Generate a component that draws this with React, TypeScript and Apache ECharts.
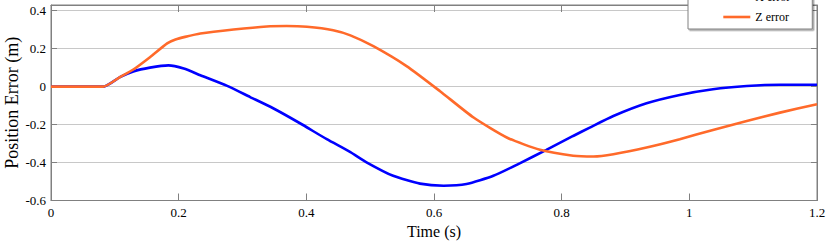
import React, { useEffect, useRef } from "react";
import * as echarts from "echarts";

const timeX = [0, 0.04, 0.082, 0.108, 0.129, 0.155, 0.184, 0.208, 0.234, 0.276, 0.312, 0.348, 0.39, 0.432, 0.469, 0.495, 0.536, 0.578, 0.615, 0.651, 0.693, 0.735, 0.776, 0.818, 0.844, 0.881, 0.933, 0.985, 1.037, 1.09, 1.142, 1.2];
const errX = [0, 0, 0, 0.05, 0.08, 0.1, 0.112, 0.095, 0.06, 0.004, -0.055, -0.114, -0.193, -0.277, -0.345, -0.4, -0.47, -0.511, -0.522, -0.513, -0.47, -0.403, -0.333, -0.26, -0.216, -0.155, -0.088, -0.044, -0.014, 0.003, 0.01, 0.01];

const timeZ = [0, 0.04, 0.082, 0.108, 0.129, 0.155, 0.182, 0.195, 0.21, 0.234, 0.286, 0.338, 0.369, 0.401, 0.442, 0.469, 0.505, 0.557, 0.609, 0.662, 0.714, 0.766, 0.818, 0.85, 0.881, 0.933, 0.985, 1.037, 1.09, 1.142, 1.2];
const errZ = [0, 0, 0, 0.05, 0.09, 0.155, 0.228, 0.248, 0.262, 0.28, 0.301, 0.317, 0.319, 0.315, 0.297, 0.27, 0.213, 0.108, -0.023, -0.163, -0.268, -0.333, -0.364, -0.368, -0.356, -0.321, -0.277, -0.228, -0.181, -0.137, -0.093];

const seriesNames = ["X error", "Z error"];
const seriesColors = ["#0000ff", "#ff6a2a"];

const fmt = (v: number) => (Math.abs(v) < 1e-9 ? "0" : String(+v.toFixed(1)));

export default function App() {
  const ref = useRef<HTMLDivElement>(null);
  useEffect(() => {
    document.body.style.margin = "0";
    const chart = echarts.init(ref.current!, null, { renderer: "svg" });
    const font = "'Liberation Serif', 'Times New Roman', serif";
    const axisColor = "#808080";
    const lineCommon = {
      type: "line",
      symbol: "none",
      smooth: 0.2,
    };
    chart.setOption({
      animation: false,
      backgroundColor: "#fff",
      textStyle: { fontFamily: font },
      grid: {
        left: 51,
        right: 13,
        top: 5,
        bottom: 43.5,
        containLabel: false,
        outerBoundsMode: "none",
        show: true,
        borderColor: axisColor,
        borderWidth: 1,
      },
      legend: {
        orient: "vertical",
        left: 688,
        top: -15,
        padding: [6, 22, 6, 34],
        itemGap: 8,
        itemWidth: 27,
        itemHeight: 14,
        borderColor: axisColor,
        borderWidth: 1,
        backgroundColor: "#fff",
        shadowColor: "rgba(0,0,0,0.35)",
        shadowOffsetX: 1.5,
        shadowOffsetY: 1.5,
        shadowBlur: 0,
        itemStyle: { opacity: 0 },
        lineStyle: { width: 2.6 },
        textStyle: { fontFamily: font, fontSize: 12, color: "#000" },
        data: seriesNames,
      },
      xAxis: [
        {
          type: "value",
          min: 0,
          max: 1.2,
          interval: 0.2,
          name: "Time (s)",
          nameLocation: "middle",
          nameGap: 23,
          nameMoveOverlap: false,
          nameTextStyle: { fontFamily: font, fontSize: 16, color: "#000" },
          axisLine: { show: true, onZero: false, lineStyle: { color: axisColor } },
          axisTick: { show: true, inside: true, length: 7, lineStyle: { color: axisColor } },
          axisLabel: { formatter: fmt, fontFamily: font, fontSize: 13, color: "#000", margin: 5 },
          splitLine: { show: false },
        },
        {
          type: "value",
          position: "top",
          min: 0,
          max: 1.2,
          interval: 0.2,
          axisLine: { show: true, onZero: false, lineStyle: { color: axisColor } },
          axisTick: { show: true, inside: true, length: 7, lineStyle: { color: axisColor } },
          axisLabel: { show: false },
          splitLine: { show: false },
        },
      ],
      yAxis: [
        {
          type: "value",
          min: -0.6,
          max: 0.43,
          interval: 0.2,
          name: "Position Error (m)",
          nameLocation: "middle",
          nameGap: 30,
          nameMoveOverlap: false,
          nameTextStyle: { fontFamily: font, fontSize: 18, color: "#000" },
          axisLine: { show: true, onZero: false, lineStyle: { color: axisColor } },
          axisTick: { show: true, inside: true, length: 6, lineStyle: { color: axisColor } },
          axisLabel: { formatter: fmt, fontFamily: font, fontSize: 13, color: "#000", margin: 5, showMaxLabel: false },
          splitLine: { show: true, lineStyle: { color: "#c8c8c8", width: 1 } },
        },
        {
          type: "value",
          position: "right",
          min: -0.6,
          max: 0.43,
          interval: 0.2,
          axisLine: { show: true, onZero: false, lineStyle: { color: axisColor } },
          axisTick: { show: true, inside: true, length: 6, lineStyle: { color: axisColor } },
          axisLabel: { show: false },
          splitLine: { show: false },
        },
      ],
      series: [
        {
          ...lineCommon,
          name: seriesNames[0],
          data: timeX.map((t, i) => [t, errX[i]]),
          lineStyle: { color: seriesColors[0], width: 2.6 },
          itemStyle: { color: seriesColors[0] },
          z: 3,
        },
        {
          ...lineCommon,
          name: seriesNames[1],
          data: timeZ.map((t, i) => [t, errZ[i]]),
          lineStyle: { color: seriesColors[1], width: 2.6 },
          itemStyle: { color: seriesColors[1] },
          z: 4,
        },
      ],
    });
    return () => chart.dispose();
  }, []);
  return <div ref={ref} style={{ position: "fixed", left: 0, top: 0, width: 830, height: 244 }} />;
}
